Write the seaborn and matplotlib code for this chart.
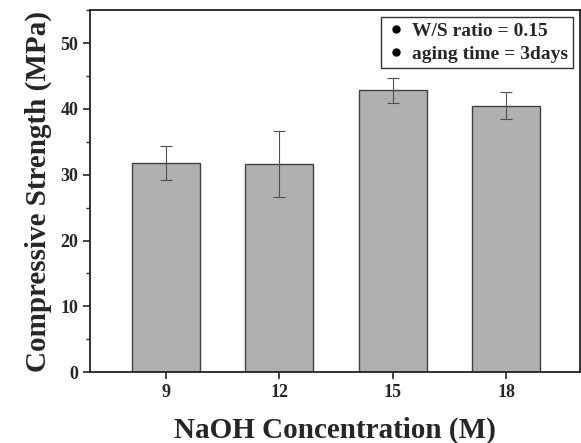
import numpy as np
import pandas as pd
import seaborn as sns
import matplotlib.pyplot as plt
from matplotlib.lines import Line2D
from matplotlib.ticker import MultipleLocator

concentration = ["9", "12", "15", "18"]
strength = [31.8, 31.6, 42.8, 40.5]
error = [2.6, 5.0, 1.9, 2.0]
notes = ["W/S ratio = 0.15", "aging time = 3days"]

df = pd.DataFrame({"NaOH": concentration, "Strength": strength})

sns.set_style("ticks")
plt.rcParams["font.family"] = ["Liberation Serif", "DejaVu Serif"]
plt.rcParams["font.weight"] = "bold"

fig = plt.figure(figsize=(5.81, 4.43), dpi=100)
ax = fig.add_axes([0.155, 0.16, 0.843, 0.817])

sns.barplot(data=df, x="NaOH", y="Strength", color="#b0b0b0", width=0.6,
            edgecolor="#404040", linewidth=1.0, saturation=1, errorbar=None, ax=ax)
ax.errorbar(np.arange(len(strength)), strength, yerr=error, fmt="none",
            ecolor="#505050", elinewidth=0.8, capsize=4, capthick=0.8)

ax.set_xlim(-0.67, 3.65)
ax.set_ylim(0, 55)
ax.yaxis.set_major_locator(MultipleLocator(10))
ax.yaxis.set_minor_locator(MultipleLocator(5))
ax.tick_params(axis="both", direction="out", labelsize=13, width=1.2, length=5)
ax.tick_params(axis="y", which="minor", direction="out", length=3, width=1.0)
for lab in ax.get_xticklabels() + ax.get_yticklabels():
    lab.set_fontweight("bold")
for s in ax.spines.values():
    s.set_linewidth(1.3)
    s.set_color("#222222")

ax.set_xlabel("NaOH Concentration (M)", fontsize=21, fontweight="bold", labelpad=11)
ax.set_ylabel("Compressive Strength (MPa)", fontsize=21, fontweight="bold", labelpad=6)

handles = [Line2D([], [], marker="o", color="black", linestyle="none", markersize=5)
           for _ in notes]
leg = ax.legend(handles, notes, loc="upper right", frameon=True, fancybox=False,
                edgecolor="black", handletextpad=0.3, borderpad=0.3,
                handlelength=1.0, labelspacing=0.25, borderaxespad=0,
                prop={"family": "Liberation Serif", "weight": "bold", "size": 14},
                bbox_to_anchor=(0.987, 0.982))
leg.get_frame().set_linewidth(1.0)

fig.savefig("out.png", dpi=100)
